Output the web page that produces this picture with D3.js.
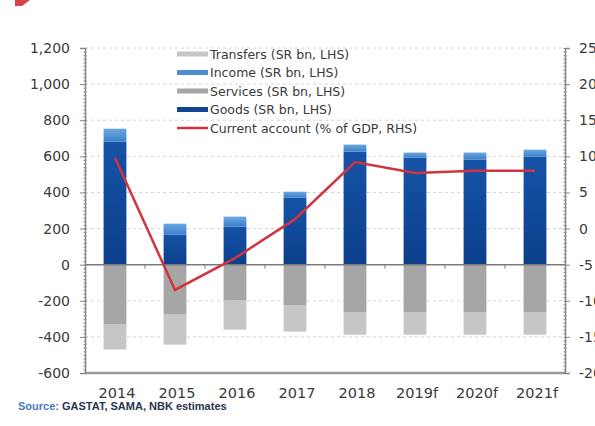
<!DOCTYPE html>
<html><head><meta charset="utf-8">
<script src="https://cdn.jsdelivr.net/npm/d3@7"></script>
<style>body{margin:0;background:#fff}svg{display:block}</style>
</head><body>
<svg id="c" width="595" height="426"></svg>
<script>
const years = ["2014","2015","2016","2017","2018","2019f","2020f","2021f"];
const goods = [681,166,211,371,626,593,582,598];
const income = [72,61,55,33,39,28,39,39];
const services = [-332,-277,-199,-227,-266,-266,-266,-266];
const transfers = [-138,-166,-161,-144,-122,-122,-122,-122];
const currentAccount = [9.8,-8.5,-4.1,1.3,9.2,7.7,8.0,8.0];
const leftTicks = [1200,1000,800,600,400,200,0,-200,-400,-600];
const rightTicks = [25,20,15,10,5,0,-5,-10,-15,-20];
const legendLabels = ["Transfers (SR bn, LHS)","Income (SR bn, LHS)","Services (SR bn, LHS)","Goods (SR bn, LHS)","Current account (% of GDP, RHS)"];

const svg = d3.select("#c");
const L=85,R=565,T=48,B=373;
const font="DejaVu Sans, Liberation Sans, Arial, sans-serif";
const x = d3.scaleBand().domain(years).range([L,R]).paddingInner(0.62).paddingOuter(0.31);
const xb = d3.scaleBand().domain(years).range([L,R]);
const y = d3.scaleLinear().domain([-600,1200]).range([B,T]);
const y2 = d3.scaleLinear().domain([-20,25]).range([B,T]);
const fmtL = d => d3.format(",")(d).replace("\u2212","-");
const fmtR = d => String(d);

const defs = svg.append("defs");
const g1 = defs.append("linearGradient").attr("id","gGoods").attr("x1",0).attr("x2",0).attr("y1",0).attr("y2",1);
g1.append("stop").attr("offset","0%").attr("stop-color","#1553a6");
g1.append("stop").attr("offset","100%").attr("stop-color","#0c3f8c");
const g2 = defs.append("linearGradient").attr("id","gInc").attr("x1",0).attr("x2",0).attr("y1",0).attr("y2",1);
g2.append("stop").attr("offset","0%").attr("stop-color","#6aa8e4");
g2.append("stop").attr("offset","100%").attr("stop-color","#3a80c8");

// title remnant
svg.append("path").attr("d","M15,0 L30,0 L22,6 L15,6 Z").attr("fill","#d0202a").attr("opacity",0.85);

// gridlines
svg.append("g").selectAll("line").data(leftTicks.filter(d=>d!==0&&d!==-600)).join("line")
  .attr("x1",L).attr("x2",R).attr("y1",d=>y(d)).attr("y2",d=>y(d))
  .attr("stroke","#d4d4d4").attr("stroke-width",1).attr("stroke-dasharray","3,3");

// bars
const gb = svg.append("g");
years.forEach((yr,i)=>{
  const bx = x(yr), bw = x.bandwidth();
  gb.append("rect").attr("x",bx).attr("width",bw).attr("y",y(goods[i])).attr("height",y(0)-y(goods[i])).attr("fill","url(#gGoods)");
  gb.append("rect").attr("x",bx).attr("width",bw).attr("y",y(goods[i]+income[i])).attr("height",y(goods[i])-y(goods[i]+income[i])).attr("fill","url(#gInc)");
  gb.append("rect").attr("x",bx).attr("width",bw).attr("y",y(0)).attr("height",y(services[i])-y(0)).attr("fill","#a6a6a6");
  gb.append("rect").attr("x",bx).attr("width",bw).attr("y",y(services[i])).attr("height",y(services[i]+transfers[i])-y(services[i])).attr("fill","#c6c6c6");
});

// zero line & category ticks
svg.append("line").attr("x1",L).attr("x2",R).attr("y1",y(0)).attr("y2",y(0)).attr("stroke","#7a7a7a").attr("stroke-width",1.5);
svg.append("g").selectAll("line").data(years.slice(1)).join("line")
  .attr("x1",d=>xb(d)).attr("x2",d=>xb(d)).attr("y1",y(0)).attr("y2",y(0)+4).attr("stroke","#7a7a7a");

// bottom axis line
svg.append("line").attr("x1",L).attr("x2",R).attr("y1",B).attr("y2",B).attr("stroke","#9a9a9a").attr("stroke-width",2.5);

// left axis
const la = svg.append("g").attr("transform",`translate(${L},0)`)
  .call(d3.axisLeft(y).tickValues(leftTicks).tickSize(5).tickFormat(fmtL));
la.select(".domain").attr("stroke","#888").attr("stroke-width",1.5);
la.selectAll(".tick line").attr("stroke","#888");
la.selectAll("text").attr("font-family",font).attr("font-size",14).attr("fill","#3a3a3a").attr("x",-15);
svg.append("g").attr("transform",`translate(${L},0)`).call(d3.axisLeft(y).tickValues(d3.range(-600,1201,20)).tickSize(3).tickFormat(""))
  .call(g=>g.select(".domain").remove()).selectAll("line").attr("stroke","#888").attr("transform","translate(1.5,0)");

// right axis
const ra = svg.append("g").attr("transform",`translate(${R},0)`)
  .call(d3.axisRight(y2).tickValues(rightTicks).tickSize(5).tickFormat(fmtR));
ra.select(".domain").attr("stroke","#888").attr("stroke-width",1.5);
ra.selectAll(".tick line").attr("stroke","#888");
ra.selectAll("text").attr("font-family",font).attr("font-size",14).attr("fill","#3a3a3a").attr("x",14);
svg.append("g").attr("transform",`translate(${R},0)`).call(d3.axisRight(y2).tickValues(d3.range(-20,25.01,0.5)).tickSize(3).tickFormat(""))
  .call(g=>g.select(".domain").remove()).selectAll("line").attr("stroke","#888").attr("transform","translate(-1.5,0)");

// x labels
svg.append("g").selectAll("text").data(years).join("text")
  .attr("x",d=>xb(d)+xb.bandwidth()/2+2).attr("y",398).attr("text-anchor","middle")
  .attr("font-family",font).attr("font-size",14.5).attr("fill","#3a3a3a").text(d=>d);

// current account line
svg.append("path").datum(currentAccount)
  .attr("d",d3.line().x((d,i)=>xb(years[i])+xb.bandwidth()/2).y(d=>y2(d)))
  .attr("fill","none").attr("stroke","#d2333f").attr("stroke-width",2.5).attr("stroke-linejoin","miter");

// legend
const legColors = ["#c6c6c6","#4a8fd4","#a6a6a6","#0f468f","#d2333f"];
const lg = svg.append("g");
legendLabels.forEach((t,i)=>{
  const ly = 54 + i*18.5;
  if(i<4) lg.append("rect").attr("x",177).attr("y",ly-2.5).attr("width",31).attr("height",5).attr("fill",legColors[i]);
  else lg.append("line").attr("x1",177).attr("x2",208).attr("y1",ly).attr("y2",ly).attr("stroke",legColors[i]).attr("stroke-width",2.5);
  lg.append("text").attr("x",210).attr("y",ly+4.5).attr("font-family",font).attr("font-size",12.5).attr("fill","#3a3a3a").text(t);
});

// source
const st = svg.append("text").attr("x",18).attr("y",410).attr("font-family","Liberation Sans, Arial, sans-serif").attr("font-size",11).attr("font-weight","bold");
st.append("tspan").attr("fill","#4a78c0").text("Source: ");
st.append("tspan").attr("fill","#2a3550").text("GASTAT, SAMA, NBK estimates");
</script>
</body></html>
